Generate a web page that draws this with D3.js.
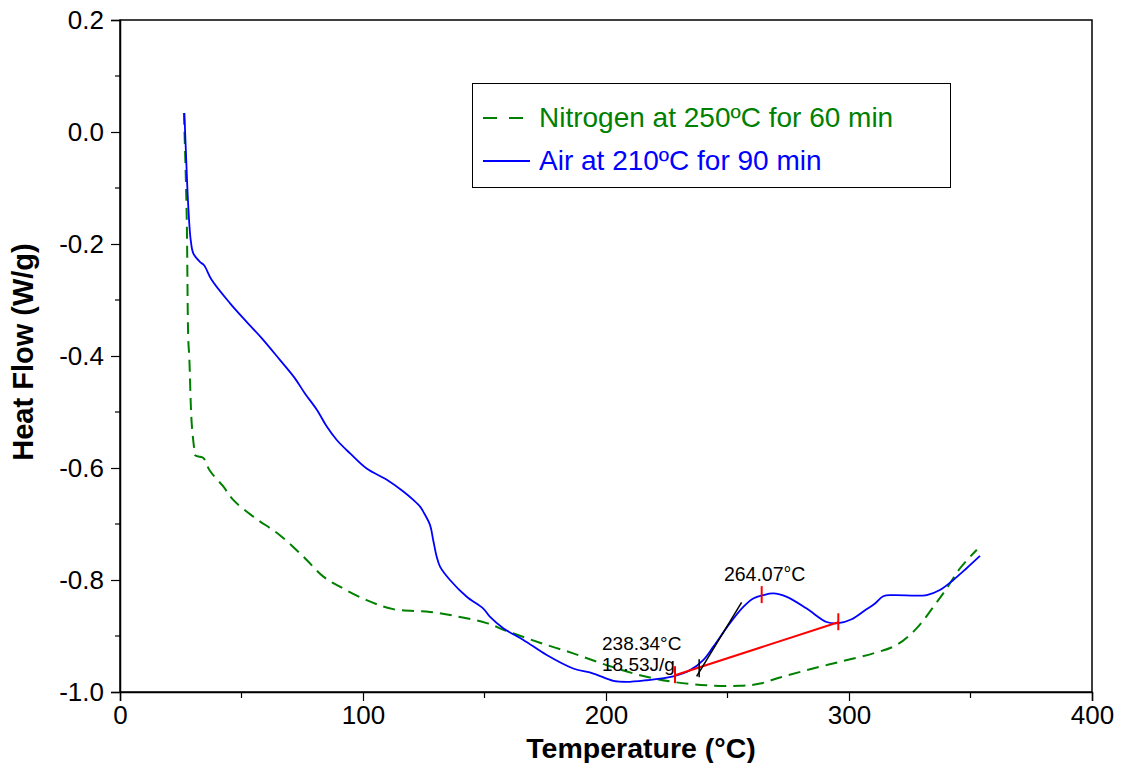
<!DOCTYPE html>
<html>
<head>
<meta charset="utf-8">
<script src="https://cdn.jsdelivr.net/npm/d3@7"></script>
<style>
  html, body { margin: 0; padding: 0; background: #fff; }
  svg { display: block; font-family: Arial, "Liberation Sans", sans-serif; }
</style>
</head>
<body>
<svg id="chart" width="1126" height="763"></svg>
<script>
// DSC heat flow traces: temperature (°C) vs heat flow (W/g)
const airTemp = [26.5, 27.2, 28.1, 29.1, 30.2, 32.9, 34.6, 37.7, 45.3, 52.1, 58.3, 65.8, 72.0, 76.1, 81.0, 85.1, 89.2, 94.7, 101.5, 109.8, 116.6, 120.7, 123.5, 124.8, 127.6, 128.9, 130.3, 131.7, 135.8, 142.7, 149.5, 152.3, 157.7, 166.0, 175.6, 186.5, 194.8, 203.0, 208.5, 216.7, 227.7, 234.6, 240.0, 244.2, 251.0, 256.5, 260.6, 264.7, 268.8, 274.4, 282.6, 290.8, 295.6, 301.1, 306.6, 310.7, 314.1, 318.2, 332.0, 337.4, 342.9, 348.4, 353.9];
const airFlow = [0.034, -0.044, -0.133, -0.193, -0.217, -0.232, -0.238, -0.264, -0.306, -0.339, -0.368, -0.407, -0.440, -0.467, -0.496, -0.526, -0.550, -0.574, -0.601, -0.621, -0.642, -0.657, -0.669, -0.678, -0.702, -0.729, -0.758, -0.776, -0.800, -0.830, -0.851, -0.866, -0.886, -0.907, -0.934, -0.958, -0.967, -0.980, -0.982, -0.979, -0.972, -0.961, -0.943, -0.919, -0.877, -0.848, -0.833, -0.827, -0.824, -0.830, -0.851, -0.875, -0.877, -0.870, -0.854, -0.842, -0.829, -0.827, -0.827, -0.818, -0.800, -0.779, -0.757];

const n2Temp = [26.3, 27.0, 27.5, 28.1, 28.5, 29.5, 30.6, 30.9, 32.9, 34.3, 37.0, 42.5, 46.6, 54.9, 65.8, 75.4, 83.7, 90.5, 101.5, 112.5, 127.6, 139.9, 150.9, 159.1, 172.8, 186.5, 200.3, 214.0, 227.7, 241.4, 255.1, 263.4, 271.6, 282.6, 296.3, 310.0, 319.6, 327.9, 334.7, 340.2, 345.7, 352.6];
const n2Flow = [0.034, -0.068, -0.163, -0.371, -0.401, -0.520, -0.568, -0.577, -0.580, -0.582, -0.605, -0.633, -0.657, -0.687, -0.720, -0.758, -0.794, -0.812, -0.836, -0.852, -0.857, -0.866, -0.877, -0.891, -0.912, -0.931, -0.952, -0.970, -0.982, -0.988, -0.989, -0.985, -0.974, -0.961, -0.946, -0.931, -0.916, -0.886, -0.848, -0.815, -0.779, -0.746];

// Peak analysis: integration baseline, onset tangent, peak marker
const baseStart = [228.4, -0.970];
const baseEnd = [295.6, -0.8755];
const onsetTemp = 238.34;
const peakTemp = 264.07;
const peakFlow = -0.827;
const tangentLine = [[237.3, -0.972], [255.8, -0.840]];
const enthalpyLabel = "18.53J/g";

const xTicks = [0, 100, 200, 300, 400];
const yTicks = [0.2, 0.0, -0.2, -0.4, -0.6, -0.8, -1.0];

const seriesNames = ["Nitrogen at 250ºC for 60 min", "Air at 210ºC for 90 min"];
const seriesColors = ["#008000", "#0000ff"];

const svg = d3.select("#chart");
const plotLeft = 120, plotRight = 1092, plotTop = 20, plotBottom = 692;

const x = d3.scaleLinear().domain([0, 400]).range([plotLeft, plotRight]);
const y = d3.scaleLinear().domain([-1.0, 0.2]).range([plotBottom, plotTop]);

// Frame
svg.append("rect")
  .attr("x", plotLeft).attr("y", plotTop)
  .attr("width", plotRight - plotLeft).attr("height", plotBottom - plotTop)
  .attr("fill", "none").attr("stroke", "#000").attr("stroke-width", 1.5);

// Minor ticks
const minorX = d3.range(50, 400, 100);
const minorY = d3.range(-0.9, 0.2, 0.2);
svg.append("g").selectAll("line").data(minorX).join("line")
  .attr("x1", d => x(d)).attr("x2", d => x(d))
  .attr("y1", plotBottom).attr("y2", plotBottom + 6)
  .attr("stroke", "#000").attr("stroke-width", 1.2);
svg.append("g").selectAll("line").data(minorY).join("line")
  .attr("x1", plotLeft - 5).attr("x2", plotLeft)
  .attr("y1", d => y(d)).attr("y2", d => y(d))
  .attr("stroke", "#000").attr("stroke-width", 1.2);

// Axes
const xAxis = d3.axisBottom(x).tickValues(xTicks).tickSize(9).tickPadding(5).tickFormat(d => String(d));
const yAxis = d3.axisLeft(y).tickValues(yTicks).tickSize(9).tickPadding(7).tickFormat(d => d.toFixed(1));

const gx = svg.append("g").attr("transform", `translate(0,${plotBottom})`).call(xAxis);
const gy = svg.append("g").attr("transform", `translate(${plotLeft},0)`).call(yAxis);
[gx, gy].forEach(g => {
  g.select(".domain").attr("stroke", "#000").attr("stroke-width", 1.5);
  g.selectAll(".tick line").attr("stroke", "#000").attr("stroke-width", 1.2);
  g.selectAll(".tick text").attr("fill", "#000").attr("font-size", 26)
    .attr("font-family", "Arial, 'Liberation Sans', sans-serif");
});

// Axis titles
svg.append("text")
  .attr("x", 641).attr("y", 758)
  .attr("text-anchor", "middle").attr("font-size", 28.5).attr("font-weight", "bold")
  .text("Temperature (°C)");
svg.append("text")
  .attr("transform", `translate(33,352) rotate(-90)`)
  .attr("text-anchor", "middle").attr("font-size", 29).attr("font-weight", "bold")
  .text("Heat Flow (W/g)");

// Curves
const curveLine = d3.line().x(d => x(d[0])).y(d => y(d[1])).curve(d3.curveCatmullRom.alpha(0.5));
const n2Data = n2Temp.map((t, i) => [t, n2Flow[i]]);
const airData = airTemp.map((t, i) => [t, airFlow[i]]);

svg.append("path").datum(n2Data)
  .attr("d", curveLine)
  .attr("fill", "none").attr("stroke", seriesColors[0])
  .attr("stroke-width", 2).attr("stroke-dasharray", "12,7");

svg.append("path").datum(airData)
  .attr("d", curveLine)
  .attr("fill", "none").attr("stroke", seriesColors[1])
  .attr("stroke-width", 1.8);

// Integration baseline
svg.append("line")
  .attr("x1", x(baseStart[0])).attr("y1", y(baseStart[1]))
  .attr("x2", x(baseEnd[0])).attr("y2", y(baseEnd[1]))
  .attr("stroke", "#ff0000").attr("stroke-width", 2);

// Red limit / peak markers
const redMarks = [[baseStart[0], baseStart[1]], [baseEnd[0], baseEnd[1]], [peakTemp, peakFlow]];
svg.append("g").selectAll("line").data(redMarks).join("line")
  .attr("x1", d => x(d[0])).attr("x2", d => x(d[0]))
  .attr("y1", d => y(d[1]) - 9).attr("y2", d => y(d[1]) + 8)
  .attr("stroke", "#ff0000").attr("stroke-width", 2);

// Onset tangent and onset marker
svg.append("line")
  .attr("x1", x(tangentLine[0][0])).attr("y1", y(tangentLine[0][1]))
  .attr("x2", x(tangentLine[1][0])).attr("y2", y(tangentLine[1][1]))
  .attr("stroke", "#000").attr("stroke-width", 1.5);
const onsetFlow = baseStart[1] + (baseEnd[1] - baseStart[1]) * (onsetTemp - baseStart[0]) / (baseEnd[0] - baseStart[0]);
svg.append("line")
  .attr("x1", x(onsetTemp)).attr("x2", x(onsetTemp))
  .attr("y1", y(onsetFlow) - 8).attr("y2", y(onsetFlow) + 10)
  .attr("stroke", "#000").attr("stroke-width", 1.5);

// Annotation labels
svg.append("text")
  .attr("x", x(peakTemp) + 3).attr("y", 581)
  .attr("text-anchor", "middle").attr("font-size", 19.5).attr("fill", "#000")
  .text(peakTemp.toFixed(2) + "°C");
svg.append("text")
  .attr("x", 602).attr("y", 650)
  .attr("font-size", 19).attr("fill", "#000")
  .text(onsetTemp.toFixed(2) + "°C");
svg.append("text")
  .attr("x", 602).attr("y", 671)
  .attr("font-size", 19).attr("fill", "#000")
  .text(enthalpyLabel);

// Legend
const legend = svg.append("g");
legend.append("rect")
  .attr("x", 472.5).attr("y", 83.5).attr("width", 478).attr("height", 104)
  .attr("fill", "#fff").attr("stroke", "#000").attr("stroke-width", 1);
const legendRows = [
  { name: seriesNames[0], color: seriesColors[0], dash: "14,12", y: 118 },
  { name: seriesNames[1], color: seriesColors[1], dash: null, y: 161 }
];
legendRows.forEach(r => {
  legend.append("line")
    .attr("x1", 483).attr("x2", r.dash ? 523 : 530).attr("y1", r.y).attr("y2", r.y)
    .attr("stroke", r.color).attr("stroke-width", 2)
    .attr("stroke-dasharray", r.dash);
  legend.append("text")
    .attr("x", 539).attr("y", r.y + 9)
    .attr("font-size", 28).attr("fill", r.color)
    .text(r.name);
});
</script>
</body>
</html>
